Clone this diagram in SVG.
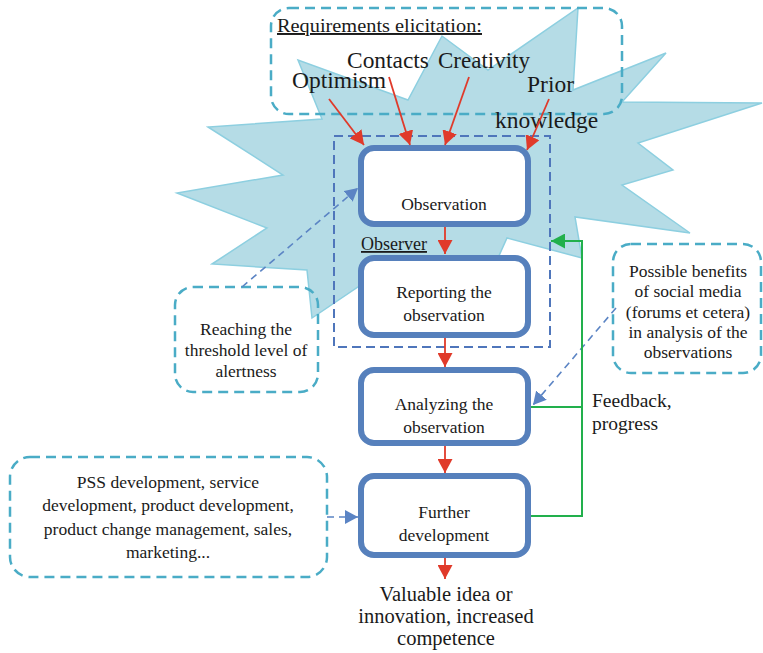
<svg xmlns="http://www.w3.org/2000/svg" width="763" height="653" viewBox="0 0 763 653">
<style>
text{font-family:"Liberation Serif","Times New Roman",serif;fill:#1a1a1a}
.t{font-size:17.5px;text-anchor:middle}
.big{font-size:23.5px}
.box{fill:#fff;stroke:#5680bc;stroke-width:6}
.note{fill:none;stroke:#4aacc6;stroke-width:2.5;stroke-dasharray:10 6}
.red{stroke:#e03a2a;stroke-width:1.8;fill:none}
.blu{stroke:#5b84c4;stroke-width:1.6;fill:none;stroke-dasharray:7 5}
.grn{stroke:#22b04c;stroke-width:2;fill:none}
</style>
<defs>
<marker id="ar" markerUnits="userSpaceOnUse" markerWidth="15" markerHeight="15" refX="14" refY="7.5" orient="auto"><path d="M0,0 L14,7.5 L0,15 z" fill="#e03a2a"/></marker>
<marker id="ab" markerUnits="userSpaceOnUse" markerWidth="14" markerHeight="14" refX="13" refY="7" orient="auto"><path d="M0,0 L13,7 L0,14 z" fill="#5b84c4"/></marker>
<marker id="ag" markerUnits="userSpaceOnUse" markerWidth="15" markerHeight="15" refX="14" refY="7.5" orient="auto"><path d="M0,0 L14,7.5 L0,15 z" fill="#22b04c"/></marker>
</defs>
<g id="burst">
<polygon points="578,8 573,90 666,53 622,102 762,103 638,143 673,170 622,185 690,233 575,217 582,258 507,238 470,320 395,262 312,318 307,270 212,264 267,228 177,193 283,175 208,127 322,119 298,60 408,100 442,36 488,70" fill="#b5dce6" stroke="#8dcfe0" stroke-width="1.5"/>
</g>
<g id="requirements">
<rect class="note" x="271" y="8" width="351" height="106" rx="18"/>
<text x="277" y="32" style="font-size:19.5px;text-decoration:underline" textLength="205" lengthAdjust="spacingAndGlyphs">Requirements elicitation:</text>
<text class="big" x="292" y="88">Optimism</text>
<text class="big" x="347" y="68" textLength="82" lengthAdjust="spacingAndGlyphs">Contacts</text>
<text class="big" x="438" y="68" textLength="92" lengthAdjust="spacingAndGlyphs">Creativity</text>
<text class="big" x="527" y="92">Prior</text>
<text class="big" x="495" y="128">knowledge</text>
</g>
<g id="observer">
<rect x="334" y="136" width="216" height="211" fill="none" stroke="#4f76bb" stroke-width="2" stroke-dasharray="9 5"/>
<text x="361" y="250" style="font-size:18px;text-decoration:underline">Observer</text>
</g>
<g id="observation">
<rect class="box" x="361" y="148" width="167" height="76" rx="13"/>
<text class="t" x="444" y="210">Observation</text>
</g>
<g id="reporting">
<rect class="box" x="361" y="258" width="167" height="77" rx="13"/>
<text class="t" x="444" y="298">Reporting the</text>
<text class="t" x="444" y="321">observation</text>
</g>
<g id="analyzing">
<rect class="box" x="361" y="370" width="167" height="73" rx="13"/>
<text class="t" x="444" y="410">Analyzing the</text>
<text class="t" x="444" y="433">observation</text>
</g>
<g id="further">
<rect class="box" x="361" y="476" width="167" height="79" rx="13"/>
<text class="t" x="444" y="518">Further</text>
<text class="t" x="444" y="541">development</text>
</g>
<g id="reaching">
<rect class="note" x="175" y="287" width="143" height="105" rx="18"/>
<text class="t" x="246" y="335">Reaching the</text>
<text class="t" x="246" y="356">threshold level of</text>
<text class="t" x="246" y="377">alertness</text>
</g>
<g id="benefits">
<rect class="note" x="613" y="244" width="148" height="129" rx="18"/>
<text class="t" x="688" y="277">Possible benefits</text>
<text class="t" x="688" y="297">of social media</text>
<text class="t" x="688" y="318">(forums et cetera)</text>
<text class="t" x="688" y="338">in analysis of the</text>
<text class="t" x="688" y="358">observations</text>
</g>
<g id="pss">
<rect class="note" x="10" y="457" width="317" height="120" rx="20"/>
<text class="t" x="168" y="488">PSS development, service</text>
<text class="t" x="168" y="511">development, product development,</text>
<text class="t" x="168" y="535">product change management, sales,</text>
<text class="t" x="168" y="558">marketing...</text>
</g>
<g id="outcome">
<text x="446" y="601" style="font-size:20.5px;text-anchor:middle">Valuable idea or</text>
<text x="446" y="623" style="font-size:20.5px;text-anchor:middle">innovation, increased</text>
<text x="446" y="645" style="font-size:20.5px;text-anchor:middle">competence</text>
</g>
<g id="feedback-label">
<text x="592" y="407" style="font-size:19.5px">Feedback,</text>
<text x="592" y="430" style="font-size:19.5px">progress</text>
</g>
<g id="connectors">
<line class="red" x1="329" y1="99" x2="364" y2="145" marker-end="url(#ar)"/>
<line class="red" x1="389" y1="77" x2="410" y2="145" marker-end="url(#ar)"/>
<line class="red" x1="469" y1="77" x2="445" y2="145" marker-end="url(#ar)"/>
<line class="red" x1="549" y1="99" x2="527" y2="150" marker-end="url(#ar)"/>
<line class="red" x1="445" y1="227" x2="445" y2="254" marker-end="url(#ar)"/>
<line class="red" x1="445" y1="338" x2="445" y2="367" marker-end="url(#ar)"/>
<line class="red" x1="445" y1="446" x2="445" y2="473" marker-end="url(#ar)"/>
<line class="red" x1="445" y1="558" x2="445" y2="579" marker-end="url(#ar)"/>
<line class="blu" x1="242" y1="287" x2="358" y2="188" marker-end="url(#ab)"/>
<line class="blu" x1="616" y1="308" x2="533" y2="405" marker-end="url(#ab)"/>
<line class="blu" x1="327" y1="517" x2="358" y2="517" marker-end="url(#ab)"/>
<line class="grn" x1="531" y1="407" x2="582" y2="407"/>
<polyline class="grn" points="531,516 582,516 582,241 551,241" marker-end="url(#ag)"/>
</g>
</svg>
